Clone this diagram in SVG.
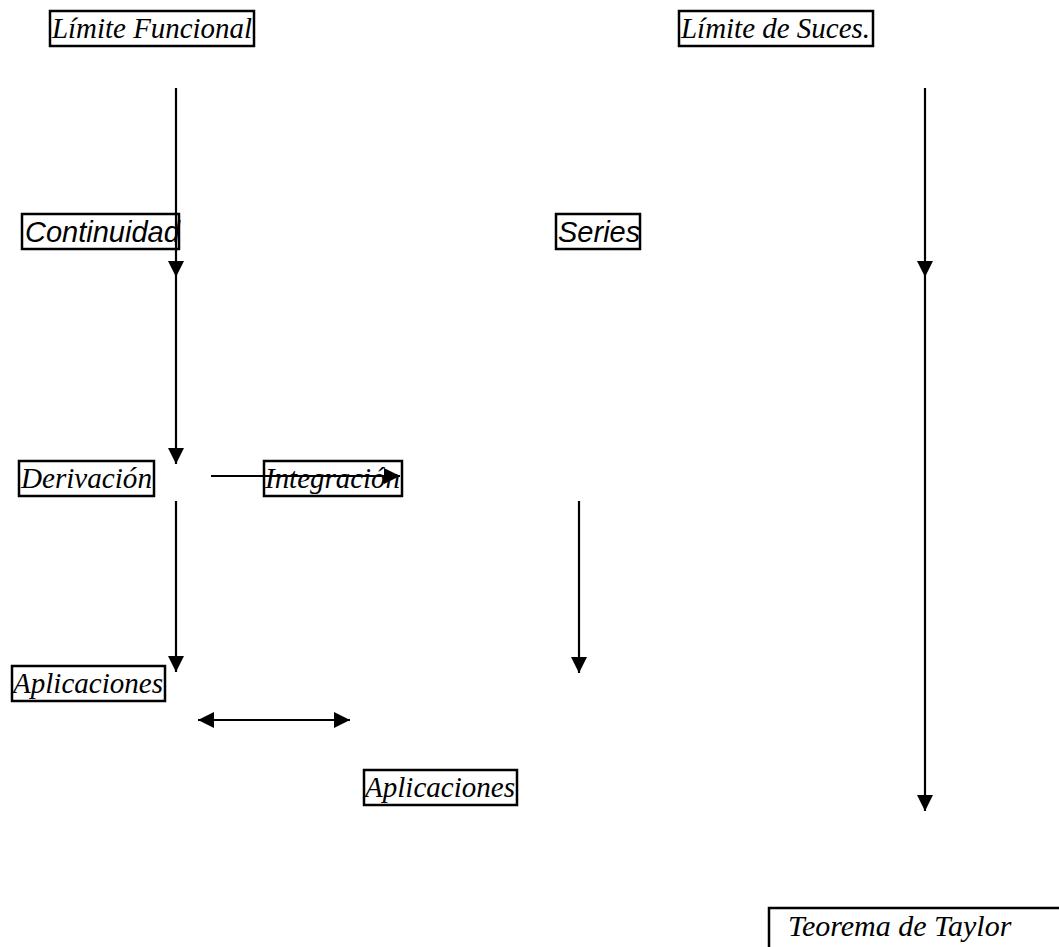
<svg xmlns="http://www.w3.org/2000/svg" width="1059" height="947" viewBox="0 0 1059 947">
<style>
.box{fill:#fff;stroke:#000;stroke-width:2.5}
.ti{font-family:"Liberation Serif","Times New Roman",serif;font-style:italic;font-size:30px;fill:#000}
.si{font-family:"Liberation Sans",Arial,sans-serif;font-style:italic;font-size:29px;fill:#000}
.ln{stroke:#000;stroke-width:2.2;fill:none}
</style>
<defs>
<marker id="ah" markerUnits="userSpaceOnUse" markerWidth="17" markerHeight="17" viewBox="0 0 17 17" refX="16" refY="8.5" orient="auto-start-reverse">
<path d="M0,0.5 L16,8.5 L0,16.5 Z" fill="#000"/>
</marker>
</defs>
<g id="n-limite-funcional">
<rect class="box" x="50" y="11" width="204" height="35"/>
<text class="ti" x="52" y="38" textLength="200" lengthAdjust="spacingAndGlyphs">Límite Funcional</text>
</g>
<g id="n-limite-suces">
<rect class="box" x="679" y="11" width="194" height="35"/>
<text class="ti" x="681" y="38" textLength="189" lengthAdjust="spacingAndGlyphs">Límite de Suces.</text>
</g>
<g id="n-continuidad">
<rect class="box" x="22" y="214" width="157" height="35"/>
<text class="si" x="25" y="242">Continuidad</text>
</g>
<g id="n-series">
<rect class="box" x="556" y="214" width="84" height="35"/>
<text class="si" x="558" y="242">Series</text>
</g>
<g id="n-derivacion">
<rect class="box" x="19" y="461" width="135" height="35"/>
<text class="ti" x="21" y="488" textLength="131" lengthAdjust="spacingAndGlyphs">Derivación</text>
</g>
<g id="n-integracion">
<rect class="box" x="264" y="461" width="138" height="35"/>
<text class="ti" x="265" y="488" textLength="135" lengthAdjust="spacingAndGlyphs">Integración</text>
</g>
<g id="n-aplicaciones-1">
<rect class="box" x="12" y="666" width="153" height="35"/>
<text class="ti" x="13" y="693" textLength="150" lengthAdjust="spacingAndGlyphs">Aplicaciones</text>
</g>
<g id="n-aplicaciones-2">
<rect class="box" x="364" y="770" width="153" height="35"/>
<text class="ti" x="365" y="797" textLength="150" lengthAdjust="spacingAndGlyphs">Aplicaciones</text>
</g>
<g id="n-taylor">
<path class="box" d="M1060,908 H769 V948"/>
<text class="ti" x="788" y="936">Teorema de Taylor</text>
</g>
<g id="connectors">
<line class="ln" x1="176" y1="88" x2="176" y2="277" marker-end="url(#ah)"/>
<line class="ln" x1="176" y1="277" x2="176" y2="464" marker-end="url(#ah)"/>
<line class="ln" x1="176" y1="501" x2="176" y2="672" marker-end="url(#ah)"/>
<line class="ln" x1="211" y1="476" x2="400" y2="476" marker-end="url(#ah)"/>
<line class="ln" x1="579" y1="501" x2="579" y2="673" marker-end="url(#ah)"/>
<line class="ln" x1="198" y1="720" x2="350" y2="720" marker-start="url(#ah)" marker-end="url(#ah)"/>
<line class="ln" x1="925" y1="88" x2="925" y2="277" marker-end="url(#ah)"/>
<line class="ln" x1="925" y1="277" x2="925" y2="811" marker-end="url(#ah)"/>
</g>
</svg>
